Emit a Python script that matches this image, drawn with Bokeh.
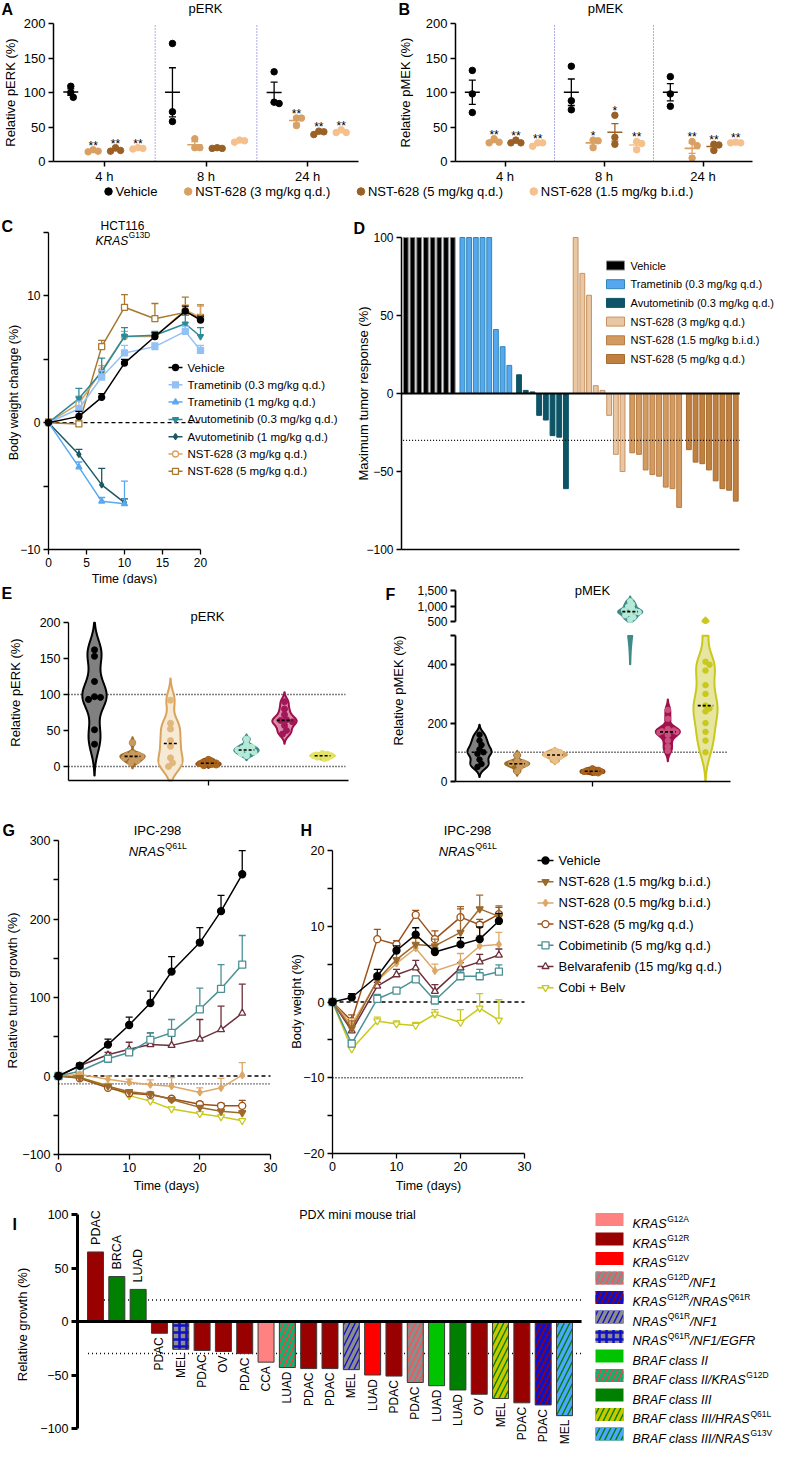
import numpy as np
from bokeh.plotting import figure
from bokeh.models import Range1d, FixedTicker, Label, ColumnDataSource
from bokeh.layouts import column, row
from bokeh.embed import file_html
from bokeh.resources import INLINE
from bokeh.core.properties import value

FONT = "Liberation Sans"
MINUS = "\u2212"

# ======================= DATA =======================
# --- A / B : pERK and pMEK by time point (3 mice per group) ---
AB_TIMES = ["4 h", "8 h", "24 h"]
AB_GROUPS = ["Vehicle", "NST-628 (3 mg/kg q.d.)", "NST-628 (5 mg/kg q.d.)", "NST-628 (1.5 mg/kg b.i.d.)"]
AB_COLORS = ["#000000", "#d9a064", "#9a6127", "#f6c08c"]
PERK_4H = [[109, 93, 100], [15, 17, 14], [15, 20, 16], [19, 20, 18]]
PERK_8H = [[171, 72, 58], [33, 20, 20], [19, 20, 19], [28, 31, 30]]
PERK_24H = [[130, 84, 86], [63, 63, 52], [39, 44, 43], [42, 46, 42]]
PERK_STARS = [["", "**", "**", "**"], ["", "", "", ""], ["", "**", "**", "**"]]
PMEK_4H = [[132, 98, 71], [28, 33, 27], [27, 31, 27], [22, 27, 27]]
PMEK_8H = [[138, 88, 75], [31, 20, 30], [67, 35, 25], [29, 17, 26]]
PMEK_24H = [[123, 98, 80], [29, 23, 5], [25, 16, 24], [27, 28, 27]]
PMEK_STARS = [["", "**", "**", "**"], ["", "*", "*", "**"], ["", "**", "**", "**"]]

# --- C : HCT116 body weight change ---
C_DAYS = [0, 4, 7, 10, 14, 18, 20]
C_DAYS_SHORT = [0, 4, 7, 10]
C_LABELS = ["Vehicle", "Trametinib (0.3 mg/kg q.d.)", "Trametinib (1 mg/kg q.d.)",
            "Avutometinib (0.3 mg/kg q.d.)", "Avutometinib (1 mg/kg q.d.)",
            "NST-628 (3 mg/kg q.d.)", "NST-628 (5 mg/kg q.d.)"]
C_VEH = [0, 0.5, 2.0, 4.7, 6.8, 8.8, 8.1]
C_VEH_SEM = [0.2, 0.4, 0.3, 0.3, 0.3, 0.4, 0.3]
C_TRA03 = [0, 1.1, 3.6, 5.5, 6.0, 7.2, 5.7]
C_TRA03_SEM = [0.2, 0.6, 0.5, 0.6, 0.3, 0.4, 0.4]
C_TRA1 = [0, -3.5, -6.2, -6.4]
C_TRA1_SEM = [0.2, 0.4, 0.3, 1.8]
C_AVU03 = [0, 1.9, 4.0, 6.8, 6.9, 7.8, 6.8]
C_AVU03_SEM = [0.2, 0.8, 1.1, 0.7, 0.3, 0.8, 0.7]
C_AVU1 = [0, -2.5, -4.9, -6.3]
C_AVU1_SEM = [0.2, 0.4, 1.3, 0.3]
C_NST3 = [0, 1.5, 4.1, 6.8, 6.8, 8.9, 8.3]
C_NST3_SEM = [0.3, 0.6, 0.4, 0.4, 0.3, 0.4, 0.9]
C_NST5 = [0, -0.1, 6.0, 9.1, 8.2, 8.7, 8.3]
C_NST5_SEM = [0.3, 0.3, 0.5, 1.0, 1.2, 1.2, 1.0]

# --- D : maximum tumor response waterfall ---
D_GROUPS = ["Vehicle", "Trametinib (0.3 mg/kg q.d.)", "Avutometinib (0.3 mg/kg q.d.)",
            "NST-628 (3 mg/kg q.d.)", "NST-628 (1.5 mg/kg b.i.d.)", "NST-628 (5 mg/kg q.d.)"]
D_VEHICLE = [100, 100, 100, 100, 100, 100, 100, 100]
D_TRAMETINIB = [100, 100, 100, 100, 100, 41, 30, 18]
D_AVUTOMETINIB = [12, 2, 1, -14, -17, -27, -28, -61]
D_NST_3QD = [100, 77, 63, 5, 2, -14, -39, -50]
D_NST_15BID = [-38, -39, -49, -52, -53, -60, -61, -73]
D_NST_5QD = [-36, -44, -45, -49, -56, -61, -62, -69]
D_THRESHOLD = -30

# --- E : pERK violins ---
E_G1 = [162, 153, 118, 97, 96, 93, 51, 31]
E_G2 = [33, 18, 16, 15, 14, 12, 10, 8, 5]
E_G3 = [92, 60, 52, 36, 28, 12, 5, 0]
E_G4 = [10, 8, 6, 5, 4, 3, 2, 1]
E_G5 = [38, 30, 27, 25, 23, 22, 20, 18, 15]
E_G6 = [90, 80, 72, 65, 64, 62, 57, 50, 45]
E_G7 = [18, 17, 16, 15, 15, 14, 13, 12, 11]
E_REFS = [100, 0]

# --- F : pMEK violins ---
F_G1 = [160, 140, 125, 110, 100, 95, 75, 60, 50]
F_G2 = [90, 70, 65, 62, 60, 55, 50, 35]
F_G3 = [105, 100, 95, 92, 90, 85, 80, 70]
F_G4 = [45, 40, 38, 35, 33, 30, 28]
F_G5 = [1150, 1050, 980, 900, 850, 820, 800, 760, 700, 640, 560]
F_G6 = [245, 215, 180, 175, 172, 170, 168, 160, 140, 120, 105]
F_G7 = [520, 410, 400, 380, 330, 300, 260, 250, 240, 200, 170, 140, 100]
F_REF = 100
F_BREAK = 500

# --- G / H : IPC-298 tumor growth and body weight ---
GH_DAYS = [0, 3, 7, 10, 13, 16, 20, 23, 26]
GH_LABELS = ["Vehicle", "NST-628 (1.5 mg/kg b.i.d.)", "NST-628 (0.5 mg/kg b.i.d.)",
             "NST-628 (5 mg/kg q.d.)", "Cobimetinib (5 mg/kg q.d.)",
             "Belvarafenib (15 mg/kg q.d.)", "Cobi + Belv"]
G_VEH = [0, 13, 40, 65, 93, 133, 170, 210, 257]
G_VEH_SEM = [1, 3, 7, 10, 15, 19, 19, 20, 30]
G_NST15 = [0, -2, -13, -20, -23, -30, -40, -45, -47]
G_NST15_SEM = [1, 2, 2, 2, 2, 2, 2, 2, 3]
G_NST05 = [0, 2, -4, -8, -11, -13, -21, -15, 1]
G_NST05_SEM = [1, 3, 4, 4, 6, 11, 6, 12, 16]
G_NST5 = [0, -3, -15, -22, -24, -29, -36, -38, -38]
G_NST5_SEM = [1, 2, 2, 2, 2, 2, 3, 3, 7]
G_COBI = [0, 6, 22, 30, 46, 55, 85, 111, 142]
G_COBI_SEM = [1, 2, 3, 4, 9, 17, 27, 31, 37]
G_BELV = [0, 13, 27, 34, 40, 39, 47, 59, 80]
G_BELV_SEM = [1, 3, 3, 9, 15, 18, 25, 30, 37]
G_COMBO = [0, -2, -12, -25, -32, -42, -48, -52, -57]
G_COMBO_SEM = [1, 1, 2, 2, 2, 2, 2, 2, 2]
G_REFS = [0, -10]

H_VEH = [0, 0.6, 3.4, 6.8, 8.9, 6.6, 7.6, 8.3, 10.7]
H_VEH_SEM = [0.2, 0.5, 0.9, 0.6, 0.9, 0.5, 0.9, 1.6, 1.0]
H_NST15 = [0, -3.5, 2.9, 5.6, 7.6, 7.4, 9.2, 12.3, 11.3]
H_NST15_SEM = [0.2, 1.0, 0.8, 1.0, 0.8, 0.9, 3.4, 1.8, 1.4]
H_NST05 = [0, -3.0, 2.8, 5.1, 7.1, 4.1, 5.2, 7.4, 7.6]
H_NST05_SEM = [0.2, 0.8, 0.8, 0.7, 0.6, 0.9, 1.2, 1.4, 1.6]
H_NST5 = [0, -2.5, 8.3, 7.6, 11.5, 8.3, 11.2, 10.2, 11.6]
H_NST5_SEM = [0.2, 0.8, 1.3, 0.5, 0.6, 1.1, 1.1, 0.7, 0.9]
H_COBI = [0, -5.5, 0.4, 1.5, 3.0, 0.2, 3.4, 3.4, 4.0]
H_COBI_SEM = [0.2, 0.5, 0.6, 0.4, 0.4, 0.6, 0.7, 0.9, 0.9]
H_BELV = [0, -3.8, 2.1, 3.6, 4.5, 1.4, 4.5, 5.3, 6.2]
H_BELV_SEM = [0.2, 0.6, 0.5, 0.7, 1.0, 0.9, 0.7, 1.0, 0.8]
H_COMBO = [0, -6.2, -2.5, -2.9, -3.1, -1.6, -2.7, -0.8, -2.4]
H_COMBO_SEM = [0.2, 0.5, 0.5, 0.4, 0.4, 0.6, 1.7, 1.9, 2.7]
H_REFS = [0, -10]

# --- I : PDX mini mouse trial ---
I_TUMOR = ["PDAC", "BRCA", "LUAD", "PDAC", "MEL", "PDAC", "OV", "PDAC", "CCA", "LUAD", "PDAC", "PDAC",
           "MEL", "LUAD", "PDAC", "PDAC", "LUAD", "LUAD", "OV", "MEL", "PDAC", "PDAC", "MEL"]
I_GROWTH = [65, 42, 30, -11, -26, -27, -28, -30, -38, -43, -44, -44, -45, -50, -51, -57, -60, -64,
            -68, -72, -76, -78, -88]
I_GENOTYPE = [1, 9, 9, 1, 6, 1, 1, 1, 0, 8, 1, 1, 5, 2, 1, 3, 7, 9, 1, 10, 1, 4, 11]
I_THRESHOLDS = [20, -30]
I_LEGEND = [
    [("KRAS", "i"), ("G12A", "s")],
    [("KRAS", "i"), ("G12R", "s")],
    [("KRAS", "i"), ("G12V", "s")],
    [("KRAS", "i"), ("G12D", "s"), ("/NF1", "i")],
    [("KRAS", "i"), ("G12R", "s"), ("/NRAS", "i"), ("Q61R", "s")],
    [("NRAS", "i"), ("Q61R", "s"), ("/NF1", "i")],
    [("NRAS", "i"), ("Q61R", "s"), ("/NF1/EGFR", "i")],
    [("BRAF class II", "i")],
    [("BRAF class II/KRAS", "i"), ("G12D", "s")],
    [("BRAF class III", "i")],
    [("BRAF class III/HRAS", "i"), ("Q61L", "s")],
    [("BRAF class III/NRAS", "i"), ("G13V", "s")],
]
I_FILL = ["#ff8282", "#990000", "#ff0000", "#ff5050", "#990000", "#1010c8", "#8c8c8c",
          "#00c400", "#ff3c3c", "#008000", "#008000", "#008000"]
I_HATCH = [" ", " ", " ", "/", "/", "/", "+", " ", "/", " ", "/", "/"]
I_HCOLOR = ["#000000", "#000000", "#000000", "#8c8c8c", "#1010c8", "#8c8c8c", "#1010c8",
            "#000000", "#10b070", "#000000", "#c8c800", "#4da6ff"]

# ======================= HELPERS =======================
W = {' ': 278, '(': 333, ')': 333, ',': 278, '-': 333, '.': 278, '/': 278, '%': 889, '+': 584,
     '*': 389, MINUS: 584}
for ch in '0123456789':
    W[ch] = 556
W.update(dict(zip('ABCDEFGHIJKLMNOPQRSTUVWXYZ',
                  [667, 667, 722, 722, 667, 611, 778, 722, 278, 500, 667, 556, 833, 722, 778, 667,
                   778, 722, 667, 611, 722, 667, 944, 667, 667, 611])))
W.update(dict(zip('abcdefghijklmnopqrstuvwxyz',
                  [556, 556, 500, 556, 556, 278, 556, 556, 222, 222, 500, 222, 833, 556, 556, 556,
                   556, 333, 500, 278, 556, 500, 722, 500, 500, 500])))


def tw(s, size):
    return sum(W.get(c, 556) for c in s) / 1000.0 * size


def fmt(v):
    return (MINUS + str(abs(v))) if v < 0 else str(v)


def hatch_scale(h):
    return 7.0 if h == "+" else 11.0


def hatch_weight(h):
    return 2.5 if h == "+" else 3.6


class Panel:
    """A figure whose plotting frame fills the whole canvas; axes sit at fixed data locations."""

    def __init__(self, fig_box, xmap, ymap, xaxis=True, yaxis=True, fs=12):
        L, T, R, B = fig_box
        (xa, pa), (xb, pb) = xmap
        (ya, qa), (yb, qb) = ymap
        self.kx = (xb - xa) / (pb - pa)
        self.ky = (yb - ya) / (qb - qa)
        self.xa, self.pa, self.ya, self.qa = xa, pa, ya, qa
        self.p = figure(width=R - L, height=B - T,
                        x_range=Range1d(self.X(L), self.X(R)),
                        y_range=Range1d(self.Y(B), self.Y(T)),
                        min_border_left=0, min_border_right=0,
                        min_border_top=0, min_border_bottom=0,
                        x_axis_location="below" if xaxis else None,
                        y_axis_location="left" if yaxis else None,
                        output_backend="svg", toolbar_location=None)
        p = self.p
        p.outline_line_color = None
        p.grid.visible = False
        p.background_fill_color = "white"
        p.border_fill_color = "white"
        for ax in p.axis:
            ax.axis_line_color = "black"
            ax.axis_line_width = 1.3
            ax.major_tick_line_color = "black"
            ax.major_tick_line_width = 1.3
            ax.major_tick_out = 5
            ax.major_tick_in = 0
            ax.minor_tick_line_color = None
            ax.major_label_text_font = FONT
            ax.major_label_text_font_size = f"{fs}px"
            ax.major_label_text_color = "black"
            ax.major_label_standoff = 3

    def X(self, px):
        return self.xa + (px - self.pa) * self.kx

    def Y(self, py):
        return self.ya + (py - self.qa) * self.ky

    def ux(self, n):
        return n * abs(self.kx)

    def uy(self, n):
        return n * abs(self.ky)

    def place_axes(self, xaxis_at=None, xbounds=None, yaxis_at=None, ybounds=None):
        for ax in self.p.xaxis:
            ax.fixed_location = xaxis_at
            ax.bounds = xbounds
        for ax in self.p.yaxis:
            ax.fixed_location = yaxis_at
            ax.bounds = ybounds

    def label(self, px, py, text, size=13, align="center", baseline="middle", angle=0.0,
              style="normal", color="black"):
        self.p.add_layout(Label(x=self.X(px), y=self.Y(py), text=text, text_font=FONT,
                                text_font_size=f"{size}px", text_align=align,
                                text_baseline=baseline, angle=angle, text_font_style=style,
                                text_color=color))

    def rich(self, px, py, segs, size=13, align="left"):
        sizes = [size * 0.68 if k == "s" else size for _, k in segs]
        widths = [tw(t, s) for (t, _), s in zip(segs, sizes)]
        x = px - (sum(widths) / 2.0 if align == "center" else 0.0)
        base = py + 0.36 * size
        for (t, k), s, w in zip(segs, sizes, widths):
            yb = base - (0.42 * size if k == "s" else 0.0)
            self.label(x, yb, t, size=round(s, 1), align="left", baseline="alphabetic",
                       style="italic" if k == "i" else "normal")
            x += w + (0.6 if k == "i" else 0.0)


def set_ticks(axes, vals, labels=None):
    if labels is None:
        labels = [fmt(v) for v in vals]
    for ax in axes:
        ax.ticker = FixedTicker(ticks=[float(v) for v in vals])
        ax.major_label_overrides = {float(v): l for v, l in zip(vals, labels)}


def swarm(vals, ppx, ppy, thr=5.0, step=2.5):
    vals = np.asarray(vals, float)
    order = np.argsort(-vals, kind="stable")
    placed = []
    offs = np.zeros(len(vals))
    cands = [0.0]
    for m in range(1, 40):
        cands += [m * step, -m * step]
    for i in order:
        y = vals[i] * ppy
        c = 0.0
        for c in cands:
            if all((c - a) ** 2 + (y - b) ** 2 >= thr * thr for a, b in placed):
                break
        placed.append((c, y))
        offs[i] = c / ppx
    return offs


def kde_shape(vals, factor=0.55, ext=2.5, n=300):
    v = np.asarray(vals, float)
    bw = factor * 1.06 * v.std(ddof=1) * len(v) ** -0.2
    ys = np.linspace(v.min() - ext * bw, v.max() + ext * bw, n)
    d = np.exp(-0.5 * ((ys[:, None] - v[None, :]) / bw) ** 2).sum(1)
    return ys, d / d.max()


def draw_violin(pn, cx, vals, line, fill, dot, ppy, ylim, hw=0.32, dotsize=6.0):
    p = pn.p
    ys, d = kde_shape(vals)
    lo, hi = ylim
    m = (ys >= lo) & (ys <= hi)
    if m.sum() >= 2:
        ys_c = np.concatenate([[max(lo, ys[m][0])], ys[m], [min(hi, ys[m][-1])]])
        d_c = np.interp(ys_c, ys, d)
        xs = np.concatenate([cx + d_c * hw, (cx - d_c * hw)[::-1]])
        yy = np.concatenate([ys_c, ys_c[::-1]])
        p.patch(xs, yy, fill_color=fill, line_color=line, line_width=2, line_join="round")
    vals = np.asarray(vals, float)
    ppx = 1.0 / abs(pn.kx)
    offs = swarm(vals, ppx, ppy, thr=dotsize * 0.85, step=2.0)
    wmax = np.maximum(np.interp(vals, ys, d) * hw - pn.ux(3.5), 0)
    offs = np.clip(offs, -wmax, wmax)
    inside = (vals >= lo) & (vals <= hi)
    if inside.any():
        p.scatter(cx + offs[inside], vals[inside], size=dotsize, fill_color=dot, line_color=dot)
    med = float(np.median(vals))
    if lo <= med <= hi:
        wm = float(np.interp(med, ys, d)) * hw
        p.segment([cx - 0.65 * wm], [med], [cx + 0.65 * wm], [med], line_color="black",
                  line_width=1.6, line_dash="3 2")


def draw_series(pn, xs, ys, es, color, marker, fill, size=6.5, lw=1.5):
    p = pn.p
    tops = [y + e for y, e in zip(ys, es)]
    p.segment(xs, ys, xs, tops, line_color=color, line_width=1.3)
    p.scatter(xs, tops, marker="dash", size=7, line_color=color, line_width=1.3)
    p.line(xs, ys, line_color=color, line_width=lw)
    p.scatter(xs, ys, marker=marker, size=size, line_color=color, fill_color=fill, line_width=1.3)


# ======================= A / B =======================
def draw_ab(pn, data, stars, title, ylabel, letter, letter_x, title_x, ylab_x):
    p = pn.p
    offs = [-0.33, -0.11, 0.11, 0.33]
    ppx = 1.0 / abs(pn.kx)
    ppy = 1.0 / abs(pn.ky)
    for k in (1, 2):
        p.segment([k], [0], [k], [200], line_color="#5b5bc8", line_width=1, line_dash="1 2")
    for ti, tdata in enumerate(data):
        for gi, vals in enumerate(tdata):
            cx = ti + 0.5 + offs[gi]
            col = AB_COLORS[gi]
            jit = swarm(vals, ppx, ppy, thr=5.0, step=2.5)
            p.scatter([cx + j for j in jit], vals, size=6.5, fill_color=col, line_color=col)
            m = float(np.mean(vals))
            s = float(np.std(vals, ddof=1) / np.sqrt(len(vals)))
            p.segment([cx], [m - s], [cx], [m + s], line_color=col, line_width=1.3)
            p.scatter([cx], [m], marker="dash", size=15, line_color=col, line_width=1.6)
            p.scatter([cx, cx], [m - s, m + s], marker="dash", size=7, line_color=col, line_width=1.3)
            if stars[ti][gi]:
                top = max(max(vals), m + s)
                p.text([cx], [top + pn.uy(4)], text=[stars[ti][gi]], text_align="center",
                       text_baseline="alphabetic", text_font=value(FONT), text_font_size="12px",
                       text_color="black")
    set_ticks(p.xaxis, [0.5, 1.5, 2.5], AB_TIMES)
    set_ticks(p.yaxis, [0, 50, 100, 150, 200])
    pn.place_axes(xaxis_at=0, xbounds=(0, 3), yaxis_at=0, ybounds=(0, 200))
    for ax in p.axis:
        ax.major_label_text_font_size = "13px"
        ax.axis_line_width = 1.5
        ax.major_tick_line_width = 1.5
    p.xaxis.major_label_standoff = 2
    pn.label(title_x, 8, title, size=13)
    pn.label(letter_x, 9, letter, size=16, align="left", style="bold")
    pn.label(ylab_x, 92, ylabel, size=13, angle=np.pi / 2)


A = Panel((0, 0, 392, 184), ((0, 53), (3, 358)), ((200, 23), (0, 161)), fs=13)
draw_ab(A, [PERK_4H, PERK_8H, PERK_24H], PERK_STARS, "pERK", "Relative pERK (%)", "A", 1, 205, 10)
B = Panel((392, 0, 776, 184), ((0, 455), (3, 752)), ((200, 23), (0, 161)), fs=13)
draw_ab(B, [PMEK_4H, PMEK_8H, PMEK_24H], PMEK_STARS, "pMEK", "Relative pMEK (%)", "B", 398, 605, 405)

LEG = Panel((0, 184, 776, 200), ((0, 0), (776, 776)), ((184, 184), (200, 200)),
            xaxis=False, yaxis=False)
lx = 108
for name, col in zip(AB_GROUPS, AB_COLORS):
    LEG.p.scatter([LEG.X(lx)], [LEG.Y(191)], size=7.5, fill_color=col, line_color=col)
    LEG.label(lx + 7, 191, name, size=13, align="left")
    lx += 7 + tw(name, 13) + 30

# ======================= C =======================
C = Panel((0, 200, 340, 584), ((0, 48), (20, 200)), ((15, 232), (-10, 549)))
C_STYLES = [("#000000", "circle", "#000000"), ("#93c1f5", "square", "#93c1f5"),
            ("#58a9f2", "triangle", "#58a9f2"), ("#2b8b99", "inverted_triangle", "#2b8b99"),
            ("#1c5963", "diamond", "#1c5963"), ("#d8a262", "circle", "white"),
            ("#a9772e", "square", "white")]
C_DATA = [(C_DAYS, C_VEH, C_VEH_SEM), (C_DAYS, C_TRA03, C_TRA03_SEM),
          (C_DAYS_SHORT, C_TRA1, C_TRA1_SEM), (C_DAYS, C_AVU03, C_AVU03_SEM),
          (C_DAYS_SHORT, C_AVU1, C_AVU1_SEM), (C_DAYS, C_NST3, C_NST3_SEM),
          (C_DAYS, C_NST5, C_NST5_SEM)]
C.p.line([C_DAYS[0], C_DAYS[-1]], [0, 0], line_color="black", line_width=1.3, line_dash="4 3")
for (xs, ys, es), (col, mk, fl) in reversed(list(zip(C_DATA, C_STYLES))):
    draw_series(C, xs, ys, es, col, mk, fl, size=6)
for i, (name, (col, mk, fl)) in enumerate(zip(C_LABELS, C_STYLES)):
    py = 367 + 17.3 * i
    C.p.line([C.X(168), C.X(182)], [C.Y(py), C.Y(py)], line_color=col, line_width=1.5)
    C.p.scatter([C.X(175)], [C.Y(py)], marker=mk, size=6, line_color=col, fill_color=fl,
                line_width=1.3)
    C.label(187, py, name, size=11.5, align="left")
set_ticks(C.p.xaxis, [0, 5, 10, 15, 20])
set_ticks(C.p.yaxis, [-10, -5, 0, 5, 10, 15], [fmt(-10), "", "0", "", "10", ""])
C.place_axes(xaxis_at=-10, xbounds=(0, 20), yaxis_at=0, ybounds=(-10, 15))
C.label(122, 225, "HCT116", size=12)
C.rich(122, 236, [("KRAS", "i"), ("G13D", "s")], size=12, align="center")
C.label(1, 226, "C", size=16, align="left", style="bold")
C.label(13, 392, "Body weight change (%)", size=12.5, angle=np.pi / 2)
C.label(124, 578, "Time (days)", size=12.5)

# ======================= D =======================
D = Panel((340, 200, 776, 584), ((0, 405.3), (1, 412.0)), ((100, 237), (-100, 549)))
D_SETS = [D_VEHICLE, D_TRAMETINIB, D_AVUTOMETINIB, D_NST_3QD, D_NST_15BID, D_NST_5QD]
D_FILL = ["#000000", "#55a7ee", "#0d5466", "#e9c7a3", "#d39b5f", "#c0803f"]
D_LINE = ["#8a8a8a", "#2f86b8", "#0d5466", "#c99262", "#b77d45", "#a86c30"]
dx, dtop, dfill, dline = [], [], [], []
k = 0
for g, vals in enumerate(D_SETS):
    for v in vals:
        dx.append(k + g * 0.45)
        dtop.append(v)
        dfill.append(D_FILL[g])
        dline.append(D_LINE[g])
        k += 1
D.p.vbar(x="x", top="top", bottom=0, width=0.72, fill_color="fill", line_color="line",
         line_width=1, source=ColumnDataSource(dict(x=dx, top=dtop, fill=dfill, line=dline)))
d_lo = D.X(401)
d_hi = dx[-1] + 0.6
D.p.segment([d_lo], [0], [d_hi], [0], line_color="black", line_width=2)
D.p.segment([dx[0] - 0.4], [D_THRESHOLD], [d_hi], [D_THRESHOLD], line_color="black",
            line_width=1.3, line_dash="1 2")
set_ticks(D.p.yaxis, [-100, -50, 0, 50, 100])
set_ticks(D.p.xaxis, [])
D.place_axes(xaxis_at=-100, xbounds=(d_lo, d_hi), yaxis_at=d_lo, ybounds=(-100, 100))
for ax in D.p.axis:
    ax.axis_line_width = 1.5
for i, name in enumerate(D_GROUPS):
    py = 265 + 18.7 * i
    D.p.rect([D.X(615)], [D.Y(py)], width=D.ux(18), height=D.uy(9), fill_color=D_FILL[i],
             line_color=D_LINE[i], line_width=1)
    D.label(630, py, name, size=11, align="left")
D.label(353, 228, "D", size=16, align="left", style="bold")
D.label(363, 393, "Maximum tumor response (%)", size=13, angle=np.pi / 2)

# ======================= E =======================
E = Panel((0, 584, 380, 805), ((0, 94), (6, 322)), ((200, 622), (0, 766)), fs=12.5)
E_SETS = [E_G1, E_G2, E_G3, E_G4, E_G5, E_G6, E_G7]
E_STY = [("#000000", "#808080", "#000000"), ("#9c6b24", "#9c6b24", "#c99a5e"),
         ("#d9a35c", "#f6ead4", "#e2b77c"), ("#8b4510", "#8b4510", "#a8651f"),
         ("#3e8b8a", "#3e8b8a", "#b4ead6"), ("#9c0e4c", "#dc8aa6", "#a0185a"),
         ("#c9c81d", "#c9c81d", "#e4e36a")]
e_lo = E.X(68)
e_hi = E.X(348)
e_bot = E.Y(780)
for ref in E_REFS:
    E.p.segment([e_lo], [ref], [len(E_SETS) - 1 + 0.6], [ref], line_color="black",
                line_width=1.4, line_dash="1 2")
for g, (vals, st) in enumerate(zip(E_SETS, E_STY)):
    draw_violin(E, g, vals, *st, ppy=1.0 / abs(E.ky), ylim=(e_bot, 200))
set_ticks(E.p.yaxis, [0, 50, 100, 150, 200])
set_ticks(E.p.xaxis, [3], [""])
E.place_axes(xaxis_at=e_bot, xbounds=(e_lo, e_hi), yaxis_at=e_lo, ybounds=(e_bot, 200))
E.label(207, 616, "pERK", size=13)
E.label(1, 593, "E", size=16, align="left", style="bold")
E.label(15, 692, "Relative pERK (%)", size=13, angle=np.pi / 2)

# ======================= F (broken axis: upper and lower segments) =======================
Ft = Panel((380, 584, 776, 628), ((0, 479), (6, 705)), ((1500, 590), (500, 621)), xaxis=False)
Fb = Panel((380, 628, 776, 805), ((0, 479), (6, 705)), ((500, 635), (0, 781)))
F_SETS = [F_G1, F_G2, F_G3, F_G4, F_G5, F_G6, F_G7]
F_STY = [("#000000", "#808080", "#000000"), ("#9c6b24", "#9c6b24", "#c99a5e"),
         ("#d9a35c", "#d9a35c", "#eac08c"), ("#8b4510", "#8b4510", "#a8651f"),
         ("#3e8b8a", "#3e8b8a", "#b4ead6"), ("#a0104c", "#a0104c", "#c8507e"),
         ("#c9c81d", "#e6e6a0", "#c9c81d")]
f_lo = Fb.X(455)
f_hi = Fb.X(730)
Fb.p.segment([f_lo], [F_REF], [len(F_SETS) - 1 + 0.6], [F_REF], line_color="black",
             line_width=1.4, line_dash="1 2")
for g, (vals, st) in enumerate(zip(F_SETS, F_STY)):
    upper = np.median(vals) > F_BREAK
    ppy = 1.0 / abs(Ft.ky) if upper else 1.0 / abs(Fb.ky)
    draw_violin(Ft, g, vals, *st, ppy=ppy, ylim=(F_BREAK, 1500), dotsize=5.5)
    draw_violin(Fb, g, vals, *st, ppy=ppy, ylim=(0, F_BREAK), dotsize=5.5)
set_ticks(Ft.p.yaxis, [500, 1000, 1500], ["500", "1,000", "1,500"])
set_ticks(Fb.p.yaxis, [0, 200, 400, 500], ["0", "200", "400", ""])
set_ticks(Fb.p.xaxis, [3], [""])
Ft.place_axes(yaxis_at=f_lo, ybounds=(F_BREAK, 1500))
Fb.place_axes(xaxis_at=0, xbounds=(f_lo, f_hi), yaxis_at=f_lo, ybounds=(0, F_BREAK))
for ax in list(Ft.p.yaxis) + list(Fb.p.yaxis):
    ax.axis_line_width = 1.8
    ax.major_tick_line_width = 1.8
Ft.label(592, 590, "pMEK", size=13)
Ft.label(385, 594, "F", size=16, align="left", style="bold")
Fb.label(398, 690, "Relative pMEK (%)", size=13, angle=np.pi / 2)

# ======================= G / H =======================
GH_STYLES = [("#000000", "circle", "#000000"), ("#9c6a2e", "inverted_triangle", "#9c6a2e"),
             ("#dca867", "diamond", "#dca867"), ("#9a5018", "circle", "white"),
             ("#4a9196", "square", "white"), ("#6d2f3b", "triangle", "white"),
             ("#c9c91c", "inverted_triangle", "white")]

G = Panel((0, 805, 285, 1195), ((0, 58), (30, 270)), ((300, 840), (-100, 1154)), fs=12.5)
G_DATA = [(G_VEH, G_VEH_SEM), (G_NST15, G_NST15_SEM), (G_NST05, G_NST05_SEM),
          (G_NST5, G_NST5_SEM), (G_COBI, G_COBI_SEM), (G_BELV, G_BELV_SEM),
          (G_COMBO, G_COMBO_SEM)]
G.p.line([0, 30], [G_REFS[0]] * 2, line_color="black", line_width=1.5, line_dash="4 3")
G.p.line([0, 30], [G_REFS[1]] * 2, line_color="black", line_width=1.3, line_dash="1 2")
for (ys, es), (col, mk, fl) in reversed(list(zip(G_DATA, GH_STYLES))):
    draw_series(G, GH_DAYS, ys, es, col, mk, fl, size=7)
set_ticks(G.p.xaxis, [0, 10, 20, 30])
set_ticks(G.p.yaxis, list(range(-100, 301, 50)),
          [fmt(v) if v % 100 == 0 else "" for v in range(-100, 301, 50)])
G.place_axes(xaxis_at=-100, xbounds=(0, 30), yaxis_at=0, ybounds=(-100, 300))
G.label(157, 830, "IPC-298", size=13)
G.rich(157, 846, [("NRAS", "i"), ("Q61L", "s")], size=13, align="center")
G.label(2, 830, "G", size=16, align="left", style="bold")
G.label(12, 990, "Relative tumor growth (%)", size=13.5, angle=np.pi / 2)
G.label(166, 1185, "Time (days)", size=12.5)

H = Panel((285, 805, 776, 1195), ((0, 332), (30, 524)), ((20, 850), (-20, 1153)), fs=12.5)
H_DATA = [(H_VEH, H_VEH_SEM), (H_NST15, H_NST15_SEM), (H_NST05, H_NST05_SEM),
          (H_NST5, H_NST5_SEM), (H_COBI, H_COBI_SEM), (H_BELV, H_BELV_SEM),
          (H_COMBO, H_COMBO_SEM)]
H.p.line([0, 30], [H_REFS[0]] * 2, line_color="black", line_width=1.5, line_dash="4 3")
H.p.line([0, 30], [H_REFS[1]] * 2, line_color="black", line_width=1.3, line_dash="1 2")
for (ys, es), (col, mk, fl) in reversed(list(zip(H_DATA, GH_STYLES))):
    draw_series(H, GH_DAYS, ys, es, col, mk, fl, size=7)
for i, (name, (col, mk, fl)) in enumerate(zip(GH_LABELS, GH_STYLES)):
    py = 860 + 21.2 * i
    H.p.line([H.X(537), H.X(553)], [H.Y(py), H.Y(py)], line_color=col, line_width=1.5)
    H.p.scatter([H.X(545)], [H.Y(py)], marker=mk, size=7, line_color=col, fill_color=fl,
                line_width=1.3)
    H.label(558, py, name, size=13, align="left")
set_ticks(H.p.xaxis, [0, 10, 20, 30])
set_ticks(H.p.yaxis, list(range(-20, 21, 5)),
          [fmt(v) if v % 10 == 0 else "" for v in range(-20, 21, 5)])
H.place_axes(xaxis_at=-20, xbounds=(0, 30), yaxis_at=0, ybounds=(-20, 20))
H.label(467, 830, "IPC-298", size=13)
H.rich(467, 846, [("NRAS", "i"), ("Q61L", "s")], size=13, align="center")
H.label(300, 830, "H", size=16, align="left", style="bold")
H.label(296, 1001, "Body weight (%)", size=13, angle=np.pi / 2)
H.label(428, 1185, "Time (days)", size=12.5)

# ======================= I =======================
I = Panel((0, 1195, 776, 1446), ((0, 95), (22, 564)), ((100, 1214), (-100, 1428)),
          xaxis=False, fs=12.5)
n_i = len(I_GROWTH)
i_lo = I.X(77)
i_hi = n_i - 1 + 0.8
for thr in I_THRESHOLDS:
    I.p.segment([-0.35], [thr], [i_hi], [thr], line_color="black", line_width=1.5, line_dash="1 3")
isrc = ColumnDataSource(dict(
    x=list(range(n_i)), top=I_GROWTH,
    fill=[I_FILL[g] for g in I_GENOTYPE],
    hatch=[I_HATCH[g] for g in I_GENOTYPE],
    hcolor=[I_HCOLOR[g] for g in I_GENOTYPE],
    hscale=[hatch_scale(I_HATCH[g]) for g in I_GENOTYPE],
    hweight=[hatch_weight(I_HATCH[g]) for g in I_GENOTYPE]))
I.p.vbar(x="x", top="top", bottom=0, width=0.75, fill_color="fill", line_color="#3a3a3a",
         line_width=1, hatch_pattern="hatch", hatch_color="hcolor", hatch_scale="hscale",
         hatch_weight="hweight", source=isrc)
I.p.segment([i_lo], [0], [i_hi], [0], line_color="black", line_width=3)
pos_x = [i for i, v in enumerate(I_GROWTH) if v >= 0]
neg_x = [i for i, v in enumerate(I_GROWTH) if v < 0]
I.p.text(pos_x, [I_GROWTH[i] + I.uy(7) for i in pos_x], text=[I_TUMOR[i] for i in pos_x],
         angle=np.pi / 2, text_align="left", text_baseline="middle", text_font=value(FONT),
         text_font_size="12.5px", text_color="black")
I.p.text(neg_x, [I_GROWTH[i] - I.uy(4) for i in neg_x], text=[I_TUMOR[i] for i in neg_x],
         angle=np.pi / 2, text_align="right", text_baseline="middle", text_font=value(FONT),
         text_font_size="12px", text_color="black")
set_ticks(I.p.yaxis, [-100, -50, 0, 50, 100])
I.place_axes(yaxis_at=i_lo, ybounds=(-100, 100))
for ax in I.p.yaxis:
    ax.axis_line_width = 3
    ax.major_tick_line_width = 3
    ax.major_tick_out = 6
rows_y = [1219 + 19.5 * i for i in range(len(I_LEGEND))]
I.p.rect([I.X(609)] * len(I_LEGEND), [I.Y(y) for y in rows_y], width=I.ux(28), height=I.uy(13),
         fill_color=I_FILL, line_color=None, hatch_pattern=I_HATCH, hatch_color=I_HCOLOR,
         hatch_scale=[hatch_scale(h) for h in I_HATCH],
         hatch_weight=[hatch_weight(h) for h in I_HATCH])
for segs, y in zip(I_LEGEND, rows_y):
    I.rich(632, y, segs, size=12.5)
I.label(357, 1214, "PDX mini mouse trial", size=12.5)
I.label(12, 1224, "I", size=16, align="left", style="bold")
I.label(22, 1324, "Relative growth (%)", size=13, angle=np.pi / 2)

# ======================= LAYOUT =======================
layout = column(
    row(A.p, B.p),
    LEG.p,
    row(C.p, D.p),
    row(E.p, column(Ft.p, Fb.p)),
    row(G.p, H.p),
    I.p,
)
with open("out.html", "w") as f:
    f.write(file_html(layout, INLINE, title="NST-628 figure"))
